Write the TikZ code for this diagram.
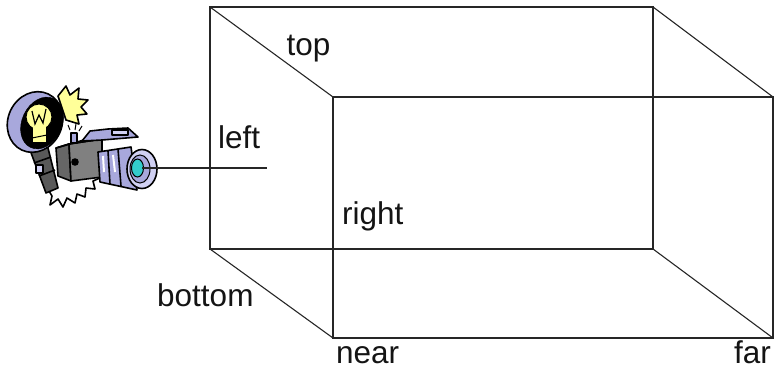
\documentclass[tikz,border=0pt]{standalone}
\usepackage{fontspec}
\setmainfont{Liberation Sans}
\begin{document}
\begin{tikzpicture}[x=1pt,y=-1pt,
  edge/.style={draw=black!85,line width=1.1pt},
  lbl/.style={font=\fontsize{31.5}{36}\selectfont,text=black!92,inner sep=0pt,anchor=base west},
  ink/.style={draw=black,line width=1.6pt,line join=round},
]
\definecolor{lav}{HTML}{A8A8DC}
\definecolor{lavlight}{HTML}{D0D0F2}
\definecolor{bulb}{HTML}{FFFF99}
\definecolor{cyanlens}{HTML}{33CCCC}
\useasboundingbox (0,0) rectangle (774,370);
% box corners
\coordinate (btl) at (210,7);
\coordinate (btr) at (653,7);
\coordinate (bbl) at (210,249);
\coordinate (bbr) at (653,249);
\coordinate (ftl) at (333,97);
\coordinate (ftr) at (773,97);
\coordinate (fbl) at (333,338);
\coordinate (fbr) at (773,338);
\draw[edge] (btl) -- (btr) -- (bbr) -- (bbl) -- cycle;
\draw[edge] (ftl) -- (ftr) -- (fbr) -- (fbl) -- cycle;
\draw[edge] (btl) -- (ftl);
\draw[edge] (btr) -- (ftr);
\draw[edge] (bbl) -- (fbl);
\draw[edge] (bbr) -- (fbr);
% labels
\node[lbl] (top) at (286.5,55) {top};
\node[lbl] (left) at (218,148) {left};
\node[lbl] (right) at (342,224) {right};
\node[lbl] (bottom) at (157,306) {bottom};
\node[lbl] (near) at (336,363) {near};
\node[lbl,anchor=base east] (far) at (771,363) {far};
% ---- camera clipart ----
% cord zigzag
\draw[ink,fill=white] (46,186) -- (52,196) -- (50,205) -- (58,199) -- (63,207) -- (67,198) -- (75,203) -- (77,194) -- (85,197) -- (86,188) -- (95,189) -- (93,181) -- (100,178);
% flash burst
\draw[ink,fill=bulb] (58,96) -- (66,86) -- (70,95) -- (79,88) -- (78,99) -- (88,100) -- (81,107) -- (87,114) -- (77,115) -- (79,124) -- (66,120) -- cycle;
% handle
\draw[ink,fill=black!65] (30,150) -- (47,144) -- (58,188) -- (46,193) -- cycle;
\draw[ink] (34,163) -- (51,157);
\draw[ink] (39,176) -- (55,170);
\draw[ink,fill=lavlight] (36,165) rectangle (43,173);
% reflector dish
\draw[ink,fill=lav,rotate around={-25:(35,122)}] (35,122) ellipse (27 and 31);
\draw[fill=black,rotate around={-25:(42,123)}] (42,123) ellipse (20 and 27);
% bulb
\draw[fill=bulb,draw=black,line width=1pt] (39,117) circle (13);
\fill[bulb] (33,126) rectangle (46,142);
\draw[black,line width=1pt] (32,138) -- (47,135);
\draw[black,line width=1.2pt] (32,111) -- (35,124) -- (39,115) -- (43,123) -- (46,109);
% camera body
\draw[ink,fill=black!60] (56,148) -- (69,144) -- (71,181) -- (58,176) -- cycle;
\draw[ink,fill=black!50] (69,144) -- (102,139) -- (102,177) -- (71,181) -- cycle;
\draw[ink,fill=black!35] (56,148) -- (84,140) -- (102,139) -- (69,144) -- cycle;
\draw[ink,fill=black] (75,162) circle (3);
% top hump
\draw[ink,fill=lav] (82,141) -- (90,131) -- (108,129) -- (128,128) -- (138,137) -- (102,140) -- cycle;
\draw[ink,fill=lavlight] (112,130) rectangle (128,135);
% shutter button
\draw[ink,fill=lav] (71,133) rectangle (77,143);
\draw[black,line width=1pt] (70,130) -- (68,125);
\draw[black,line width=1pt] (75,130) -- (76,124);
\draw[black,line width=1pt] (79,131) -- (82,126);
% lens barrel
\draw[ink,fill=lav] (98,152) -- (131,147) -- (137,190) -- (100,182) -- cycle;
\draw[ink] (108,151) -- (110,184);
\draw[ink] (118,149) -- (121,186);
\draw[white,line width=2pt] (103,156) -- (104,172);
\draw[white,line width=2pt] (113,155) -- (115,172);
% lens front
\draw[ink,fill=lavlight] (142,169) ellipse (15 and 19.5);
\draw[black,line width=1pt,fill=lav] (140,169) ellipse (10 and 14);
\draw[black,line width=1pt,fill=cyanlens] (137.5,168) ellipse (6 and 9);
\coordinate (lens) at (142,168);
\coordinate (aim) at (267,168);
\draw[edge] (lens) -- (aim);
\end{tikzpicture}
\end{document}
